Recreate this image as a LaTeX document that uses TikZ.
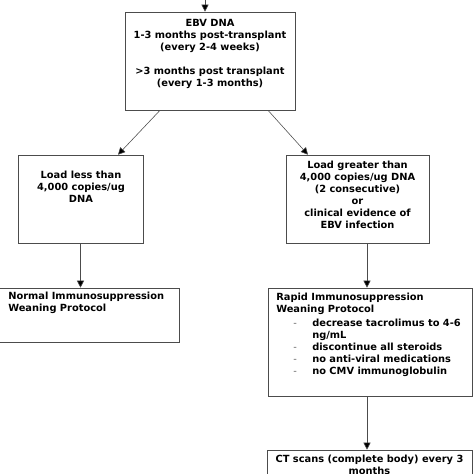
\documentclass[tikz,border=0pt]{standalone}
\usepackage{fontspec}
\setmainfont{DejaVu Sans}
\usetikzlibrary{arrows.meta,calc}

\tikzset{
	blk/.style={draw=black!70, fill=white, rectangle, inner sep=0pt},
	txt/.style={font=\fontsize{7}{8.5}\selectfont\bfseries, inner sep=0pt, align=center},
	flow/.style={draw=black!70, -{Triangle[length=5pt,width=5pt,fill=black]}}
}

\begin{document}
\begin{tikzpicture}[x=0.025cm,y=-0.025cm]

	%Background
	\useasboundingbox (0,0) rectangle (474,474);
	\clip (0,0) rectangle (474,474);
	\fill[white] (0,0) rectangle (474,474);

	%Boxes
	\node[blk, minimum width=4.25cm, minimum height=2.45cm] (ebv) at (210,61) {};
	\node[blk, minimum width=3.125cm, minimum height=2.2cm] (low) at (80.5,199) {};
	\node[blk, minimum width=3.575cm, minimum height=2.2cm] (high) at (357.5,199) {};
	\node[blk, minimum width=4.5cm, minimum height=1.35cm] (normal) at (89,315) {};
	\node[blk, minimum width=5.1cm, minimum height=2.7cm] (rapid) at (370,342) {};
	\node[blk, minimum width=5.125cm, minimum height=1.25cm] (ct) at (369.5,475) {};

	%Texts
	\node[txt, anchor=north] (ebvtxt) at (210,19) {EBV DNA\\1-3 months post-transplant\\(every 2-4 weeks)\\[8.5pt]%
		>3 months post transplant\\(every 1-3 months)};
	\node[txt, anchor=north] (lowtxt) at (81,171) {Load less than\\4,000 copies/ug\\DNA};
	\node[txt, anchor=north] (hightxt) at (357.5,161) {Load greater than\\4,000 copies/ug DNA\\(2 consecutive)\\or\\%
		clinical evidence of\\EBV infection};
	\node[txt, anchor=north west, align=left] (normaltxt) at (8,292) {Normal Immunosuppression\\Weaning Protocol};
	\node[txt, anchor=north west, align=left] (rapidtxt) at (276,293) {Rapid Immunosuppression\\Weaning Protocol};
	\node[txt, anchor=north west, align=left] (steps) at (293,318) {%
		\begin{tabular}{@{}l@{\hspace{11pt}}l@{}}
		{\mdseries\color{black!60}-} & decrease tacrolimus to 4-6\\
		 & ng/mL\\
		{\mdseries\color{black!60}-} & discontinue all steroids\\
		{\mdseries\color{black!60}-} & no anti-viral medications\\
		{\mdseries\color{black!60}-} & no CMV immunoglobulin
		\end{tabular}};
	\node[txt, anchor=north] (cttxt) at (369.5,455) {CT scans (complete body) every 3\\months};

	%Arrows
	\coordinate (src) at (205,-5);
	\draw[flow] (src) -- (src |- ebv.north);
	\draw[flow] ($(ebv.south)+(-50,0)$) -- ($(low.north)+(37.5,0)$);
	\draw[flow] ($(ebv.south)+(58,0)$) -- ($(high.north)+(-49.5,0)$);
	\draw[flow] (low.south) -- (low.south |- normal.north);
	\coordinate (hs) at ($(high.south)+(9.5,0)$);
	\draw[flow] (hs) -- (hs |- rapid.north);
	\draw[flow] (hs |- rapid.south) -- (hs |- ct.north);

\end{tikzpicture}
\end{document}
